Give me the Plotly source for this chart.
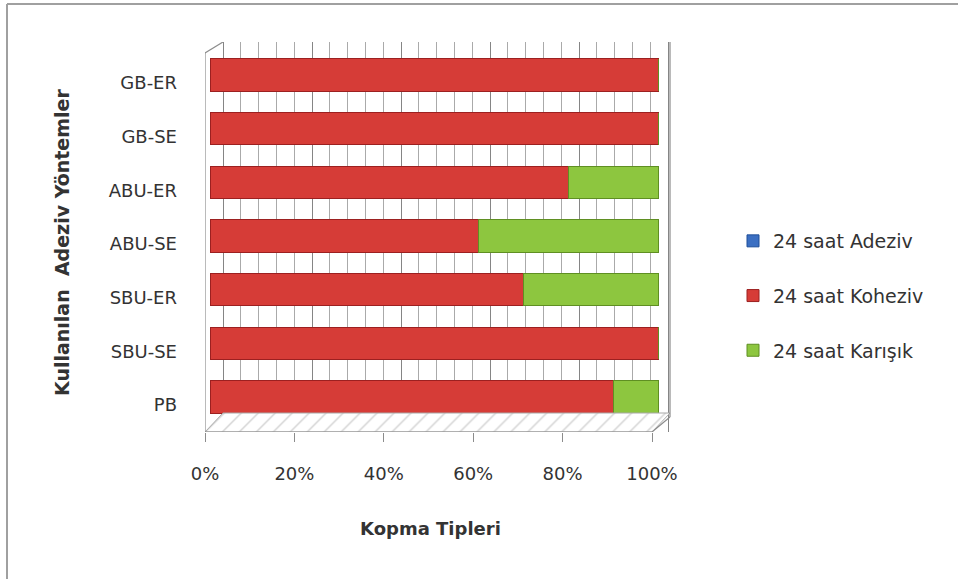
import plotly.graph_objects as go

# ---- data ----
categories = ["PB", "SBU-SE", "SBU-ER", "ABU-SE", "ABU-ER", "GB-SE", "GB-ER"]
adeziv = [0, 0, 0, 0, 0, 0, 0]
koheziv = [90, 100, 70, 60, 80, 100, 100]
karisik = [10, 0, 30, 40, 20, 0, 0]
series_names = ["24 saat Adeziv", "24 saat Koheziv", "24 saat Karışık"]
x_ticks = [0, 20, 40, 60, 80, 100]
x_tick_labels = ["0%", "20%", "40%", "60%", "80%", "100%"]

W, H = 958, 579
L, R, T, B = 205, 672, 42, 432  # plot area in pixels

# pixel -> data helpers for the decorative 3D frame
def bx(p):  # main (bar) x axis: 0 -> 210px, 100 -> 658px
    return (p - 210) / 4.48
Y0, DY = 405, 53.67
def by(p):
    return (Y0 - p) / DY

xr_bar = [bx(L), bx(R)]
xr_front = [(L - 205) / 4.47, (R - 205) / 4.47]
xr_grid = [(L - 223) / 4.45, (R - 223) / 4.45]
yr = [by(B), by(T)]

pos = list(range(len(categories)))
FONT = "DejaVu Sans"

fig = go.Figure()

# floor (hatched)
fx = [bx(205), bx(652), bx(670), bx(223), bx(205)]
fy = [by(432), by(432), by(413), by(413), by(432)]
fig.add_trace(go.Scatter(x=fx, y=fy, mode="lines", fill="toself",
                         line=dict(color="#a8a8a8", width=1),
                         fillcolor="white",
                         fillpattern=dict(shape="/", size=12, fgcolor="#a8a8a8",
                                          bgcolor="white", solidity=0.12),
                         hoverinfo="skip", showlegend=False))

colors = ["#3b6fc2", "#d63c37", "#8dc63f"]
edges = ["#1f4f99", "#9c2020", "#5f8f22"]
for name, vals, c, e in zip(series_names, [adeziv, koheziv, karisik], colors, edges):
    fig.add_trace(go.Bar(y=pos, x=vals, orientation="h", name=name,
                         width=0.6, offset=-0.15,
                         marker=dict(color=c, line=dict(color=e, width=1)),
                         legendgroup=name))

# dummy traces so overlay axes exist
fig.add_trace(go.Scatter(x=[None], y=[None], xaxis="x2", showlegend=False, hoverinfo="skip"))
fig.add_trace(go.Scatter(x=[None], y=[None], xaxis="x3", showlegend=False, hoverinfo="skip"))

frame_lines = [
    ((205, 53), (205, 432)),
    ((205, 53), (223, 42)),
    ((670, 42), (670, 417)),
    ((670, 417), (652, 432)),
    ((205, 432), (652, 432)),
]
shapes = []
for (x0, y0), (x1, y1) in frame_lines:
    shapes.append(dict(type="line", xref="x", yref="y", x0=bx(x0), y0=by(y0),
                       x1=bx(x1), y1=by(y1), line=dict(color="#8c8c8c", width=1.2)))
# outer chart border (top & left)
shapes.append(dict(type="line", xref="paper", yref="paper",
                   x0=(7 - L) / (R - L), x1=(958 - L) / (R - L),
                   y0=(B - 4) / (B - T), y1=(B - 4) / (B - T),
                   line=dict(color="#a0a0a0", width=2)))
shapes.append(dict(type="line", xref="paper", yref="paper",
                   x0=(7 - L) / (R - L), x1=(7 - L) / (R - L),
                   y0=(B - 4) / (B - T), y1=(B - 579) / (B - T),
                   line=dict(color="#a0a0a0", width=2)))

fig.update_layout(
    width=W, height=H,
    margin=dict(l=L, r=W - R, t=T, b=H - B, pad=0),
    paper_bgcolor="white", plot_bgcolor="white",
    barmode="stack", bargap=0.4,
    font=dict(family=FONT, size=18, color="#333333"),
    xaxis=dict(range=xr_bar, showgrid=False, showticklabels=False, ticks="",
               zeroline=False, showline=False, fixedrange=True),
    xaxis2=dict(range=xr_front, overlaying="x", anchor="y", side="bottom",
                tickvals=x_ticks, ticktext=x_tick_labels, ticks="outside",
                ticklen=9, tickcolor="#8c8c8c", showgrid=False, zeroline=False,
                showline=False, ticklabelstandoff=16,
                tickfont=dict(family=FONT, size=18, color="#333333")),
    xaxis3=dict(range=xr_grid, overlaying="x", anchor="y", side="top",
                showticklabels=False, ticks="", dtick=20, tick0=0,
                showgrid=True, gridcolor="#858585", gridwidth=1.3, zeroline=False,
                minor=dict(dtick=4, tick0=0, showgrid=True, gridcolor="#aaaaaa",
                           gridwidth=1)),
    yaxis=dict(range=yr, tickvals=pos, ticktext=categories, ticks="",
               showgrid=False, zeroline=False, showline=False,
               ticklabelstandoff=27,
               tickfont=dict(family=FONT, size=18, color="#333333")),
    legend=dict(x=(733 - L) / (R - L), xanchor="left",
                y=(B - 222) / (B - T), yanchor="top",
                traceorder="grouped", tracegroupgap=27,
                font=dict(family=FONT, size=19, color="#333333"),
                bgcolor="rgba(0,0,0,0)"),
    shapes=shapes,
    annotations=[
        dict(text="<b>Kopma Tipleri</b>", xref="paper", yref="paper",
             x=(430 - L) / (R - L), y=(B - 528) / (B - T), showarrow=False,
             xanchor="center", yanchor="middle",
             font=dict(family=FONT, size=18, color="#333333")),
        dict(text="<b>Kullanılan \u00a0Adeziv Yöntemler</b>", xref="paper", yref="paper",
             x=(62 - L) / (R - L), y=(B - 243) / (B - T), showarrow=False,
             textangle=-90, xanchor="center", yanchor="middle",
             font=dict(family=FONT, size=19, color="#333333")),
    ],
)

fig.write_html("out.html")
